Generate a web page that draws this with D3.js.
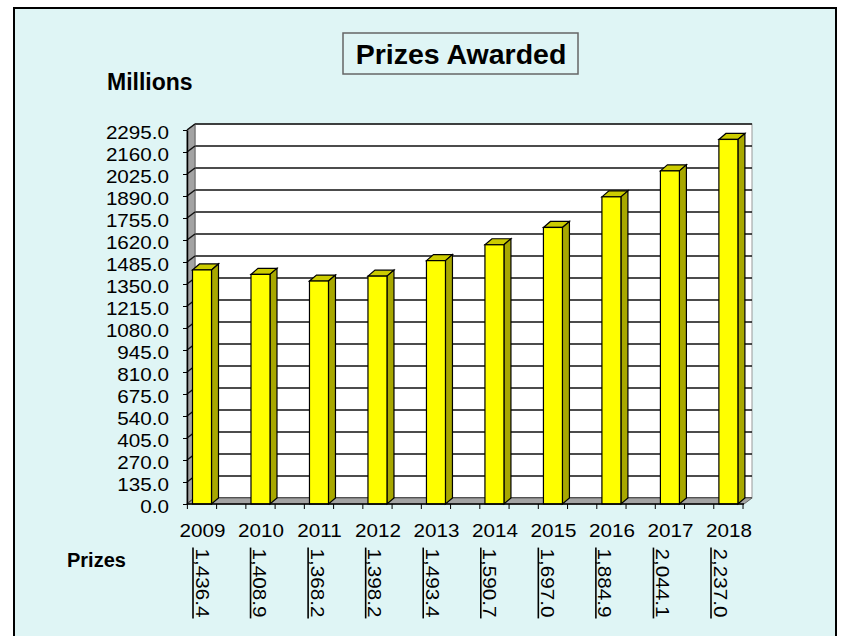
<!DOCTYPE html>
<html>
<head>
<meta charset="utf-8">
<script src="https://cdn.jsdelivr.net/npm/d3@7"></script>
<style>
  body { margin: 0; background: #fff; }
  svg { display: block; font-family: 'Liberation Sans', Arial, sans-serif; }
</style>
</head>
<body>
<script>
// data
const years = ['2009', '2010', '2011', '2012', '2013', '2014', '2015', '2016', '2017', '2018'];
const prizes = [1436.4, 1408.9, 1368.2, 1398.2, 1493.4, 1590.7, 1697.0, 1884.9, 2044.1, 2237.0];
const yTicks = [0, 135, 270, 405, 540, 675, 810, 945, 1080, 1215, 1350, 1485, 1620, 1755, 1890, 2025, 2160, 2295];

const width = 853;
const height = 636;
const dx = 8, dy = -6;      // wall depth
const bdx = 7, bdy = -6;    // bar depth
const barW = 19;
const sx = 1.18;            // stretch of the number font

const svg = d3.select('body').append('svg')
    .attr('width', width)
    .attr('height', height);

// frame
svg.append('rect')
    .attr('x', 14).attr('y', 8)
    .attr('width', 822).attr('height', 640)
    .attr('fill', '#dff5f5')
    .attr('stroke', '#000')
    .attr('stroke-width', 2);

const y = d3.scaleLinear().domain([0, 2295]).range([504, 130]);
const x = d3.scalePoint().domain(years).range([202, 728.4]);
const step = x.step();
const xL = 187, xR = 744;

// back wall
svg.append('rect')
    .attr('x', xL + dx).attr('y', y(2295) + dy)
    .attr('width', xR - xL).attr('height', y(0) - y(2295))
    .attr('fill', '#fff')
    .attr('stroke', '#999');

svg.append('g').selectAll('line')
    .data(yTicks)
  .enter().append('line')
    .attr('x1', xL + dx).attr('x2', xR + dx)
    .attr('y1', d => y(d) + dy).attr('y2', d => y(d) + dy)
    .attr('stroke', '#111')
    .attr('stroke-width', 1.5);

// left wall
svg.append('path')
    .attr('d', `M${xL},${y(0)}L${xL + dx},${y(0) + dy}L${xL + dx},${y(2295) + dy}L${xL},${y(2295)}Z`)
    .attr('fill', '#a3a3a3')
    .attr('stroke', '#666');

svg.append('g').selectAll('line')
    .data(yTicks)
  .enter().append('line')
    .attr('x1', xL).attr('x2', xL + dx)
    .attr('y1', d => y(d)).attr('y2', d => y(d) + dy)
    .attr('stroke', '#111')
    .attr('stroke-width', 1.5);

// floor
svg.append('path')
    .attr('d', `M${xL},${y(0)}L${xR},${y(0)}L${xR + dx},${y(0) + dy}L${xL + dx},${y(0) + dy}Z`)
    .attr('fill', '#a3a3a3')
    .attr('stroke', '#666');

// bars
const bars = svg.append('g').selectAll('g')
    .data(years.map((d, i) => ({year: d, value: prizes[i]})))
  .enter().append('g');

bars.append('path')
    .attr('d', d => {
      const l = x(d.year) - barW / 2, r = l + barW, t = y(d.value);
      return `M${l},${t}L${l + bdx},${t + bdy}L${r + bdx},${t + bdy}L${r},${t}Z`;
    })
    .attr('fill', '#cccc00')
    .attr('stroke', '#000')
    .attr('stroke-width', 1.2);

bars.append('path')
    .attr('d', d => {
      const r = x(d.year) + barW / 2, t = y(d.value);
      return `M${r},${t}L${r + bdx},${t + bdy}L${r + bdx},${y(0) + bdy}L${r},${y(0)}Z`;
    })
    .attr('fill', '#a8a800')
    .attr('stroke', '#000')
    .attr('stroke-width', 1.2);

bars.append('rect')
    .attr('x', d => x(d.year) - barW / 2)
    .attr('y', d => y(d.value))
    .attr('width', barW)
    .attr('height', d => y(0) - y(d.value))
    .attr('fill', '#ffff00')
    .attr('stroke', '#000')
    .attr('stroke-width', 1.2);

// y axis
const yAxis = svg.append('g')
    .attr('transform', `translate(${xL},0)`)
    .call(d3.axisLeft(y).tickValues(yTicks).tickSize(4).tickSizeOuter(0).tickFormat(d3.format('.1f')));

yAxis.select('.domain').attr('stroke', '#000').attr('stroke-width', 1.5);
yAxis.selectAll('.tick line').attr('stroke', '#000');
yAxis.selectAll('.tick text')
    .attr('x', 0)
    .attr('dy', '0.47em')
    .attr('transform', `translate(-18,0) scale(${sx},1)`)
    .attr('fill', '#000')
    .attr('font-size', 17.5)
    .attr('font-family', null);

// x axis
const xAxis = svg.append('g')
    .attr('transform', `translate(0,${y(0)})`)
    .call(d3.axisBottom(x).tickSize(0).tickPadding(20.6));

xAxis.select('.domain').remove();
xAxis.selectAll('.tick text')
    .attr('transform', `scale(${sx},1)`)
    .attr('fill', '#000')
    .attr('font-size', 17.5)
    .attr('font-family', null);

xAxis.append('line')
    .attr('x1', xL).attr('x2', xR)
    .attr('stroke', '#000')
    .attr('stroke-width', 1.5);

xAxis.selectAll('.minor')
    .data(years.flatMap(d => [x(d) - step / 4, x(d) + step / 4]))
  .enter().append('line')
    .attr('class', 'minor')
    .attr('x1', d => d).attr('x2', d => d)
    .attr('y1', 0).attr('y2', 5)
    .attr('stroke', '#000');

// title
svg.append('rect')
    .attr('x', 343).attr('y', 33)
    .attr('width', 235).attr('height', 41)
    .attr('fill', 'none')
    .attr('stroke', '#666')
    .attr('stroke-width', 1.5);

svg.append('text')
    .attr('x', 461).attr('y', 64)
    .attr('text-anchor', 'middle')
    .attr('font-size', 28.5)
    .attr('font-weight', 'bold')
    .text('Prizes Awarded');

svg.append('text')
    .attr('x', 107).attr('y', 90)
    .attr('font-size', 23)
    .attr('font-weight', 'bold')
    .text('Millions');

// data table
svg.append('text')
    .attr('x', 67).attr('y', 567)
    .attr('font-size', 20)
    .attr('font-weight', 'bold')
    .text('Prizes');

const tx = d3.scalePoint().domain(years).range([193, 711]);
const fmt = d3.format(',.1f');

const cells = svg.append('g').selectAll('g')
    .data(years.map((d, i) => ({year: d, value: prizes[i]})))
  .enter().append('g')
    .attr('transform', d => `translate(${tx(d.year)},583)`);

cells.append('text')
    .attr('transform', `translate(2.5,0) rotate(90) scale(${sx},1)`)
    .attr('text-anchor', 'middle')
    .attr('font-size', 17.5)
    .text(d => fmt(d.value));

cells.each(function() {
  const g = d3.select(this);
  const len = g.select('text').node().getComputedTextLength() * sx;
  g.append('line')
      .attr('x1', 0).attr('x2', 0)
      .attr('y1', -len / 2 - 1).attr('y2', len / 2 + 1)
      .attr('stroke', '#000')
      .attr('stroke-width', 1.6);
});
</script>
</body>
</html>
